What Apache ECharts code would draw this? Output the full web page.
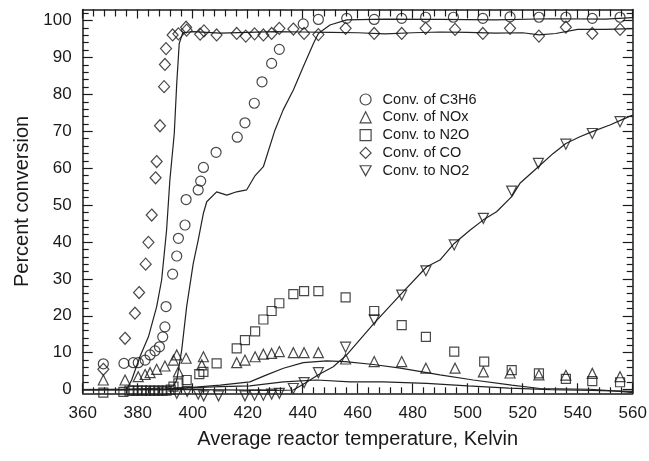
<!DOCTYPE html>
<html>
<head>
<meta charset="utf-8">
<script src="https://cdn.jsdelivr.net/npm/echarts@6/dist/echarts.min.js"></script>
<style>html,body{margin:0;padding:0;background:#fff}#c{width:649px;height:461px}</style>
</head>
<body>
<div id="c"></div>
<script>
// ---- measured data ----
var c3h6T = [367.5, 375, 378.4, 380.2, 382.7, 384.5, 386.3, 387.9, 389.1, 389.9, 390.3, 392.7, 394.2, 394.8, 397.2, 397.6, 402, 402.9, 403.9, 408.5, 416.2, 419, 422.4, 425.2, 428.7, 431.5, 440.2, 445.7, 456, 466, 476, 484.7, 494.8, 505.5, 515.4, 525.9, 535.7, 545.3, 555.4];
var c3h6V = [7, 7.1, 7.3, 7.3, 8, 9.4, 10.5, 11.6, 14.3, 17, 22.5, 31.3, 36.2, 41, 44.6, 51.5, 54.1, 56.5, 60.2, 64.3, 68.4, 72.3, 77.6, 83.4, 88.4, 92.2, 99.1, 100.3, 100.6, 100.3, 100.6, 100.9, 100.9, 100.6, 101, 100.9, 100.9, 100.6, 100.9];

var noxT = [367.5, 375.4, 380.2, 382.7, 384.5, 386.9, 389.9, 393, 394.2, 394.8, 397.6, 403.3, 403.9, 416, 419, 422.7, 425.7, 428.7, 431.5, 436.6, 440.5, 445.7, 455.6, 466, 476, 484.8, 495.4, 505.7, 515.4, 525.9, 535.7, 545.3, 555.4];
var noxV = [2.6, 2.6, 3.5, 4.1, 4.6, 5.5, 6.4, 8, 9.4, 4.8, 8.5, 6.7, 8.9, 7.3, 8, 8.9, 9.6, 9.8, 10.3, 10, 10, 10, 8.3, 7.6, 7.6, 5.8, 5.8, 4.8, 4.5, 4, 3.9, 4.4, 3.5];

var n2oT = [367.5, 374.8, 377, 378.5, 380, 381.5, 383, 384.5, 386, 387.5, 389, 390.5, 392, 393, 394.8, 397.8, 402.4, 403.9, 408.7, 416, 419, 422.7, 425.7, 428.7, 431.5, 436.6, 440.5, 445.7, 455.6, 466, 476, 484.8, 495.1, 506, 516, 525.9, 535.7, 545.3, 555.4];
var n2oV = [-0.8, -0.6, -0.3, -0.3, -0.3, -0.3, -0.3, -0.3, -0.3, -0.3, -0.3, -0.3, 0, 0.8, 1.7, 2.6, 4.2, 4.8, 7.1, 11.2, 13.4, 15.8, 19, 21.3, 23.4, 25.9, 26.7, 26.7, 25, 21.3, 17.5, 14.3, 10.3, 7.6, 5.3, 4.4, 2.9, 2.3, 2];

var coT = [367.5, 375.4, 379, 380.5, 382.9, 383.9, 385.1, 386.5, 386.9, 388.1, 389.6, 389.9, 390.3, 392.7, 394.8, 397.6, 397.8, 402.7, 404.1, 408.7, 416, 419.3, 422.5, 425.7, 428.7, 431.5, 436.6, 440.5, 445.7, 455.6, 466, 476, 484.7, 495.4, 505.5, 515.4, 525.9, 535.7, 545.3, 555.4];
var coV = [5.5, 13.9, 20.7, 26.3, 34, 39.9, 47.3, 57.4, 61.8, 71.5, 82.1, 88.1, 92.4, 96.1, 96.4, 98.2, 97.4, 96.3, 97.2, 96.1, 96.5, 95.8, 96.4, 96.1, 96.5, 97.9, 97.7, 96.5, 96.2, 97.9, 96.5, 96.5, 97.9, 97.6, 96.5, 97.9, 95.8, 98.2, 96.5, 97.6];

var no2T = [394.2, 398, 402, 404, 409.4, 419, 422.5, 425.7, 428.7, 431.5, 436.6, 440.5, 445.7, 455.6, 466, 476, 484.8, 495.1, 505.7, 516, 525.7, 535.7, 545.3, 555.4];
var no2V = [-1, -0.5, -1.2, -1.7, -1.7, -1.7, -1.5, -1.5, -1.2, -1, 0.3, 1.9, 4.6, 11.5, 18.9, 25.6, 32.2, 39.2, 46.4, 53.8, 61.3, 66.5, 69.4, 72.6];

// model curves
var c3h6ModelT = [360, 376, 390, 393, 394.2, 396, 397.8, 400.2, 402, 403.9, 405.1, 408.7, 412.4, 416, 419.6, 422.7, 425.7, 429.9, 432.9, 436.6, 440.2, 443.9, 445.7, 449.9, 456, 470, 490, 510, 530, 550, 560];
var c3h6ModelV = [0, 0, 0.5, 1, 2.6, 10.7, 22.5, 34.2, 40.5, 47.8, 50.9, 53.6, 52.7, 53.6, 54.1, 58, 60.4, 70.3, 75.8, 81.2, 87.5, 93.8, 96.5, 98.8, 100.2, 100.4, 100.3, 100.2, 100.5, 100.4, 100.8];
var coModelT = [360, 376, 377.8, 380.8, 383.9, 386.9, 388.7, 390.5, 391.7, 393.3, 394.2, 395.1, 396.4, 400.2, 410, 420, 430, 440, 450, 460, 470, 480, 490, 500, 510, 520, 526, 532, 540, 550, 560];
var coModelV = [0, 0, 2.6, 8.9, 14.3, 22.5, 29.7, 43.2, 56.8, 69.4, 83, 93.8, 96.7, 97, 96.6, 96.8, 97, 96.9, 96.8, 96.7, 96.4, 96.7, 96.9, 96.8, 96.6, 96.7, 96.1, 96.5, 97.6, 97.6, 97.8];
var no2ModelT = [360, 400, 430, 436.6, 440.8, 445.7, 451.1, 456, 466, 476, 485.1, 489.9, 495.1, 500.8, 505.7, 510.5, 516, 519, 525.7, 531.1, 535.7, 540.8, 545.3, 551.7, 557.2, 560];
var no2ModelV = [0, 0, -0.2, -0.1, 1.7, 4, 6.2, 9.4, 18, 26.1, 33.3, 35.1, 39.6, 43.2, 46, 48.2, 52.3, 55.9, 60.4, 64, 66.7, 68.5, 69.9, 71.7, 73.5, 74.4];
var noxModelT = [360, 390, 400, 410, 420.8, 426.9, 433, 440.2, 448.7, 455.4, 465.7, 475.5, 485.1, 489.9, 502, 516, 526.3, 544.5, 555.4, 560];
var noxModelV = [0, 0.2, 0.6, 1.2, 2.1, 4, 5.8, 7.3, 7.8, 7.6, 6.8, 5.8, 4.6, 4, 2.6, 1.2, 0.3, 0.1, -0.5, -0.8];
var n2oModelT = [360, 390, 400, 410, 420.8, 433, 445.1, 457.2, 469.3, 485.1, 500, 515, 530, 545, 560];
var n2oModelV = [0, 0, 0.5, 0.8, 1, 2.1, 2.6, 2.1, 2.1, 1.7, 1, 0.4, 0, -0.2, -0.5];

var yMajorTicks = [0, 10, 20, 30, 40, 50, 60, 70, 80, 90, 100];
var yMinorTicks = [2, 4, 6, 8, 12, 14, 16, 18, 22, 24, 26, 28, 32, 34, 36, 38, 42, 44, 46, 48, 52, 54, 56, 58, 62, 64, 66, 68, 72, 74, 76, 78, 82, 84, 86, 88, 92, 94, 96, 98, 102];
var legendNames = ['Conv. of C3H6', 'Conv. of NOx', 'Conv. to N2O', 'Conv. of CO', 'Conv. to NO2'];

// ---- build ----
function pairs(a, b) { return a.map(function (t, i) { return [t, b[i]]; }); }
var INK = '#1a1a1a';
var FONT = 'Liberation Sans, Arial, sans-serif';
var TRI_DOWN = 'path://M0,0 L10,0 L5,9 Z';
var legendIcons = ['circle', 'triangle', 'rect', 'diamond', TRI_DOWN];

function scatter(name, T, V, symbol, size, rot) {
  return {
    type: 'scatter', name: name, data: pairs(T, V), symbol: symbol, symbolSize: size,
    symbolRotate: rot || 0, clip: false, z: 3,
    itemStyle: { color: 'rgba(0,0,0,0)', borderColor: INK, borderWidth: 1.2 },
    emphasis: { disabled: true }
  };
}
function model(name, T, V) {
  return {
    type: 'line', name: name, data: pairs(T, V), showSymbol: false, symbol: 'none', clip: false,
    lineStyle: { color: '#222', width: 1.2 }, z: 2, emphasis: { disabled: true }
  };
}

var tickCommon = { show: true, inside: true, lineStyle: { color: INK, width: 1.2 } };
var chart = echarts.init(document.getElementById('c'), null, { renderer: 'canvas' });
chart.setOption({
  animation: false,
  backgroundColor: '#fff',
  grid: { left: 82.7, right: 16.3, top: 9.5, bottom: 67.7, containLabel: false, outerBoundsMode: 'none' },
  legend: {
    orient: 'vertical', left: 354.5, top: 87, itemWidth: 11, itemHeight: 11, itemGap: 2.8,
    symbolKeepAspect: true,
    data: legendNames.map(function (n, i) { return { name: n, icon: legendIcons[i] }; }),
    itemStyle: { color: 'rgba(0,0,0,0)', borderColor: INK, borderWidth: 1.2 },
    textStyle: { fontSize: 14.5, lineHeight: 15, color: INK, fontFamily: FONT, padding: [0, 0, 0, 6.5] },
    selectedMode: false
  },
  xAxis: [
    {
      type: 'value', min: 360, max: 560, interval: 20, position: 'bottom',
      name: 'Average reactor temperature, Kelvin', nameLocation: 'middle', nameGap: 36,
      nameTextStyle: { fontSize: 20, color: INK, fontFamily: FONT },
      axisLine: { show: true, onZero: false, lineStyle: { color: INK, width: 1.5 } },
      axisTick: Object.assign({}, tickCommon, { length: 10 }),
      minorTick: { show: true, splitNumber: 5, length: 6, lineStyle: { color: INK, width: 1.2 } },
      axisLabel: { fontSize: 17, color: INK, margin: 12, fontFamily: FONT },
      splitLine: { show: false }
    },
    {
      type: 'value', min: 360, max: 560, interval: 20, position: 'top',
      axisLine: { show: true, onZero: false, lineStyle: { color: INK, width: 1.5 } },
      axisTick: Object.assign({}, tickCommon, { length: 9 }),
      minorTick: { show: true, splitNumber: 5, length: 7, lineStyle: { color: INK, width: 1.2 } },
      axisLabel: { show: false }, splitLine: { show: false }
    }
  ],
  yAxis: [
    {
      type: 'value', min: -1, max: 103, position: 'left',
      name: 'Percent conversion', nameLocation: 'middle', nameGap: 49,
      nameTextStyle: { fontSize: 20, color: INK, fontFamily: FONT },
      axisLine: { show: true, onZero: false, lineStyle: { color: INK, width: 1.5 } },
      axisTick: Object.assign({}, tickCommon, { length: 10, customValues: yMajorTicks }),
      axisLabel: { fontSize: 17, color: INK, margin: 11, fontFamily: FONT, customValues: yMajorTicks },
      splitLine: { show: false }
    },
    {
      type: 'value', min: -1, max: 103, position: 'left',
      axisLine: { show: false },
      axisTick: Object.assign({}, tickCommon, { length: 6, customValues: yMinorTicks }),
      axisLabel: { show: false, customValues: yMinorTicks }, splitLine: { show: false }
    },
    {
      type: 'value', min: -1, max: 103, position: 'right',
      axisLine: { show: true, onZero: false, lineStyle: { color: INK, width: 1.5 } },
      axisTick: Object.assign({}, tickCommon, { length: 10, customValues: yMajorTicks }),
      axisLabel: { show: false, customValues: yMajorTicks }, splitLine: { show: false }
    },
    {
      type: 'value', min: -1, max: 103, position: 'right',
      axisLine: { show: false },
      axisTick: Object.assign({}, tickCommon, { length: 6, customValues: yMinorTicks }),
      axisLabel: { show: false, customValues: yMinorTicks }, splitLine: { show: false }
    }
  ],
  series: [
    model('model C3H6', c3h6ModelT, c3h6ModelV),
    model('model CO', coModelT, coModelV),
    model('model NO2', no2ModelT, no2ModelV),
    model('model NOx', noxModelT, noxModelV),
    model('model N2O', n2oModelT, n2oModelV),
    scatter(legendNames[0], c3h6T, c3h6V, 'circle', 10),
    scatter(legendNames[1], noxT, noxV, 'triangle', 10),
    scatter(legendNames[2], n2oT, n2oV, 'rect', 9),
    scatter(legendNames[3], coT, coV, 'diamond', [11, 12]),
    scatter(legendNames[4], no2T, no2V, 'triangle', 10, 180)
  ]
});
</script>
</body>
</html>
